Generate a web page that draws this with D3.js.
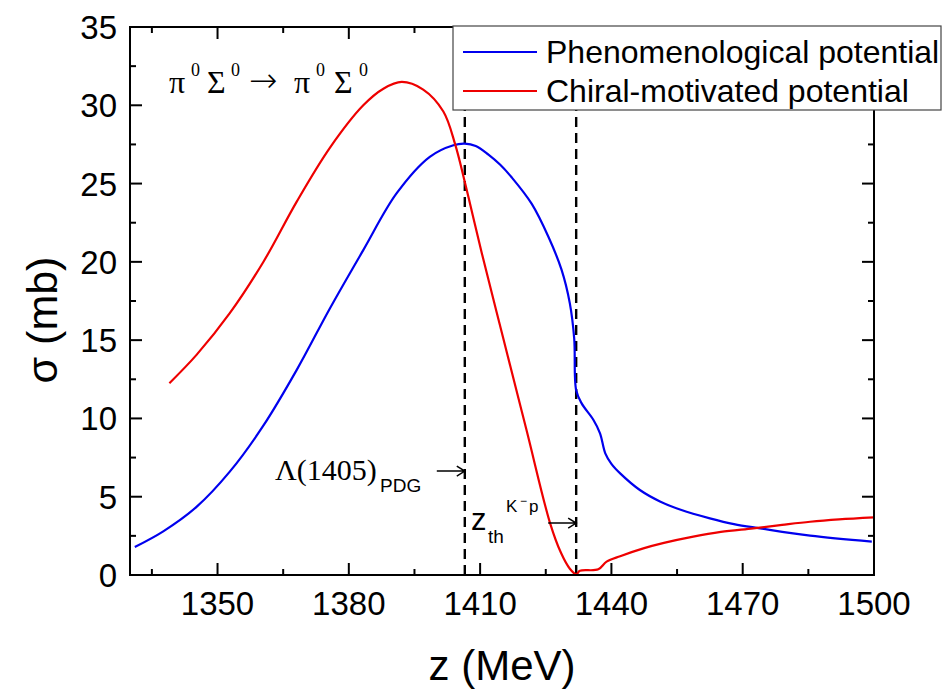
<!DOCTYPE html>
<html>
<head>
	<meta charset="UTF-8" />
	<title>pi0 Sigma0 cross section</title>
	<script src="https://d3js.org/d3.v7.min.js"></script>
	<style>
		body { margin: 0; background: white; }
	</style>
</head>
<body>
	<svg id="chart" width="943" height="689"></svg>

	<script type="text/javascript">

	// ---------------- data ----------------
	var phenoZ = [1331.1, 1337.6, 1345.2, 1352.8, 1360.5, 1368.1, 1375.7, 1383.3, 1390.9, 1398.5, 1403.9, 1406.5, 1409,
		1411.9, 1414.6, 1417.2, 1421.8, 1425.6, 1428.6, 1430.5, 1431.5, 1431.95, 1433.2, 1435.9, 1437.4, 1438.6, 1440,
		1442, 1446.5, 1451.1, 1456, 1462.5, 1468, 1474, 1485.4, 1499.5]
	var phenoSigma = [1.79, 2.79, 4.35, 6.6, 9.55, 13.1, 17.04, 20.75, 24.37, 26.71, 27.45, 27.55, 27.4,
		26.85, 26.2, 25.4, 23.7, 21.6, 19.5, 17.35, 15.1, 11.8, 10.96, 9.9, 9.05, 7.77, 7.1,
		6.49, 5.43, 4.7, 4.15, 3.62, 3.25, 2.98, 2.51, 2.13]

	var chiralZ = [1339, 1345.2, 1352.8, 1360.5, 1368.1, 1375.7, 1383.3, 1387.9, 1392.1, 1397, 1401.6, 1404.3, 1406.5,
		1408.3, 1410.4, 1415.3, 1420.6, 1426, 1428.5, 1430.5, 1431.95, 1432.8, 1437, 1438.9, 1442, 1447.3, 1452,
		1458.7, 1465, 1472.4, 1479, 1485.4, 1492, 1500]
	var chiralSigma = [12.25, 14.06, 16.72, 20.01, 23.85, 27.3, 30.0, 31.06, 31.49, 31.0, 29.6, 27.5, 25.1,
		23.0, 20.54, 15.1, 9.26, 3.3, 1.4, 0.4, 0.05, 0.27, 0.36, 0.85, 1.2, 1.7, 2.05,
		2.45, 2.75, 2.98, 3.2, 3.4, 3.55, 3.68]

	var seriesNames = ["Phenomenological potential", "Chiral-motivated potential"]
	var seriesColors = ["#0000ee", "#ee0000"]

	var xTicks = [1350, 1380, 1410, 1440, 1470, 1500]
	var yTicks = [0, 5, 10, 15, 20, 25, 30, 35]

	var lambdaPDG = 1406.5     // dashed line, Lambda(1405) PDG
	var thresholdKp = 1431.95  // dashed line, K- p threshold

	// ---------------- layout ----------------
	var margin = {left: 130, right: 69, top: 27, bottom: 114}
	var W = 943, H = 689
	var svg = d3.select("#chart")

	var xScale = d3.scaleLinear().domain([1330, 1500]).range([margin.left, W - margin.right])
	var yScale = d3.scaleLinear().domain([0, 35]).range([H - margin.bottom, margin.top])

	var x0 = xScale.range()[0], x1 = xScale.range()[1]
	var y0 = yScale.range()[0], y1 = yScale.range()[1]

	var sans = "'Liberation Sans', Arial, sans-serif"
	var serif = "'Liberation Serif', 'Times New Roman', serif"

	// ticks (inward on all four sides)
	var xMinor = d3.range(1335, 1500, 15)
	var yMinor = d3.range(0, 35.01, 2.5)

	function tickLen(v, step){ return Math.abs(v / step - Math.round(v / step)) < 1e-6 ? 12 : 6 }

	var ticks = svg.append("g").attr("stroke", "black").attr("stroke-width", 2)
	xMinor.forEach(v => {
		var L = tickLen(v, 30)
		ticks.append("line").attr("x1", xScale(v)).attr("x2", xScale(v)).attr("y1", y0).attr("y2", y0 - L)
		ticks.append("line").attr("x1", xScale(v)).attr("x2", xScale(v)).attr("y1", y1).attr("y2", y1 + L)
	})
	yMinor.forEach(v => {
		var L = tickLen(v, 5)
		ticks.append("line").attr("x1", x0).attr("x2", x0 + L).attr("y1", yScale(v)).attr("y2", yScale(v))
		ticks.append("line").attr("x1", x1).attr("x2", x1 - L).attr("y1", yScale(v)).attr("y2", yScale(v))
	})

	// tick labels
	svg.append("g").selectAll("text")
		.data(xTicks)
		.enter()
		.append("text")
		.attr("x", d => xScale(d))
		.attr("y", y0 + 40)
		.attr("text-anchor", "middle")
		.style("font-family", sans)
		.style("font-size", "33px")
		.text(d => d)

	svg.append("g").selectAll("text")
		.data(yTicks)
		.enter()
		.append("text")
		.attr("x", x0 - 13)
		.attr("y", d => yScale(d) + 12)
		.attr("text-anchor", "end")
		.style("font-family", sans)
		.style("font-size", "33px")
		.text(d => d)

	// axis titles
	svg.append("text")
		.attr("x", (x0 + x1) / 2)
		.attr("y", 680)
		.attr("text-anchor", "middle")
		.style("font-family", sans)
		.style("font-size", "42px")
		.text("z (MeV)")

	svg.append("text")
		.attr("transform", "translate(57," + ((y0 + y1) / 2 + 19) + ") rotate(-90)")
		.attr("text-anchor", "middle")
		.style("font-family", sans)
		.style("font-size", "43px")
		.text("σ (mb)")

	// dashed reference lines
	svg.append("g").selectAll("line")
		.data([lambdaPDG, thresholdKp])
		.enter()
		.append("line")
		.attr("x1", d => xScale(d)).attr("x2", d => xScale(d))
		.attr("y1", y0).attr("y2", y1)
		.attr("stroke", "black")
		.attr("stroke-width", 2.4)
		.attr("stroke-dasharray", "10,6")

	// curves
	var line = d3.line()
		.x(d => xScale(d[0]))
		.y(d => yScale(d[1]))
		.curve(d3.curveCatmullRom.alpha(0.5))

	var series = [d3.zip(phenoZ, phenoSigma), d3.zip(chiralZ, chiralSigma)]

	svg.append("g").selectAll("path")
		.data(series)
		.enter()
		.append("path")
		.attr("d", line)
		.attr("fill", "none")
		.attr("stroke", (d, i) => seriesColors[i])
		.attr("stroke-width", 2.2)

	// frame
	svg.append("rect")
		.attr("x", x0).attr("y", y1)
		.attr("width", x1 - x0).attr("height", y0 - y1)
		.attr("fill", "none")
		.attr("stroke", "black")
		.attr("stroke-width", 2)

	// legend
	var legend = svg.append("g")
	legend.append("rect")
		.attr("x", 453).attr("y", 26)
		.attr("width", 488).attr("height", 84)
		.attr("fill", "white")
		.attr("stroke", "#444")
		.attr("stroke-width", 1.2)
	seriesNames.forEach((name, i) => {
		var ly = 52 + i * 39
		legend.append("line")
			.attr("x1", 463).attr("x2", 537)
			.attr("y1", ly).attr("y2", ly)
			.attr("stroke", seriesColors[i])
			.attr("stroke-width", 2.2)
		legend.append("text")
			.attr("x", 546).attr("y", ly + 11)
			.style("font-family", sans)
			.style("font-size", "32px")
			.text(name)
	})

	// reaction label  pi0 Sigma0 -> pi0 Sigma0
	var react = svg.append("text").attr("y", 93).style("font-family", serif)
	var parts = [["π", 169, 32, 0, serif], ["0", 191, 18, -17, serif], ["Σ", 207, 32, 0, serif], ["0", 231, 18, -17, serif],
		["→", 249, 34, -1, "'DejaVu Sans', sans-serif"], ["π", 294, 32, 0, serif], ["0", 316, 18, -17, serif],
		["Σ", 334, 32, 0, serif], ["0", 359, 18, -17, serif]]
	parts.forEach(p => {
		react.append("tspan")
			.attr("x", p[1])
			.attr("y", 93 + p[3])
			.style("font-size", p[2] + "px")
			.style("font-family", p[4])
			.style("font-weight", p[0] == "→" ? 200 : 400)
			.text(p[0])
	})

	// annotations with arrows
	function arrow(xEnd, yVal, len){
		var xe = xScale(xEnd), ye = yScale(yVal)
		svg.append("path")
			.attr("d", "M" + (xe - len) + "," + ye + "H" + xe + "M" + (xe - 8) + "," + (ye - 5) + "L" + xe + "," + ye + "L" + (xe - 8) + "," + (ye + 5))
			.attr("fill", "none")
			.attr("stroke", "black")
			.attr("stroke-width", 1.5)
	}

	arrow(lambdaPDG, 6.64, 28)
	var lam = svg.append("text").attr("y", 480)
	lam.append("tspan").attr("x", 275).style("font-family", serif).style("font-size", "30px").text("Λ(1405)")
	lam.append("tspan").attr("x", 380).attr("y", 492).style("font-family", sans).style("font-size", "19px").text("PDG")

	arrow(thresholdKp, 3.32, 28)
	var zth = svg.append("text").style("font-family", sans)
	zth.append("tspan").attr("x", 471).attr("y", 530).style("font-size", "31px").text("z")
	zth.append("tspan").attr("x", 488).attr("y", 543).style("font-size", "19px").text("th")
	zth.append("tspan").attr("x", 506).attr("y", 512).style("font-size", "17px").text("K")
	zth.append("tspan").attr("x", 520).attr("y", 505).style("font-size", "12px").text("−")
	zth.append("tspan").attr("x", 529).attr("y", 512).style("font-size", "17px").text("p")

	</script>

</body>
</html>
